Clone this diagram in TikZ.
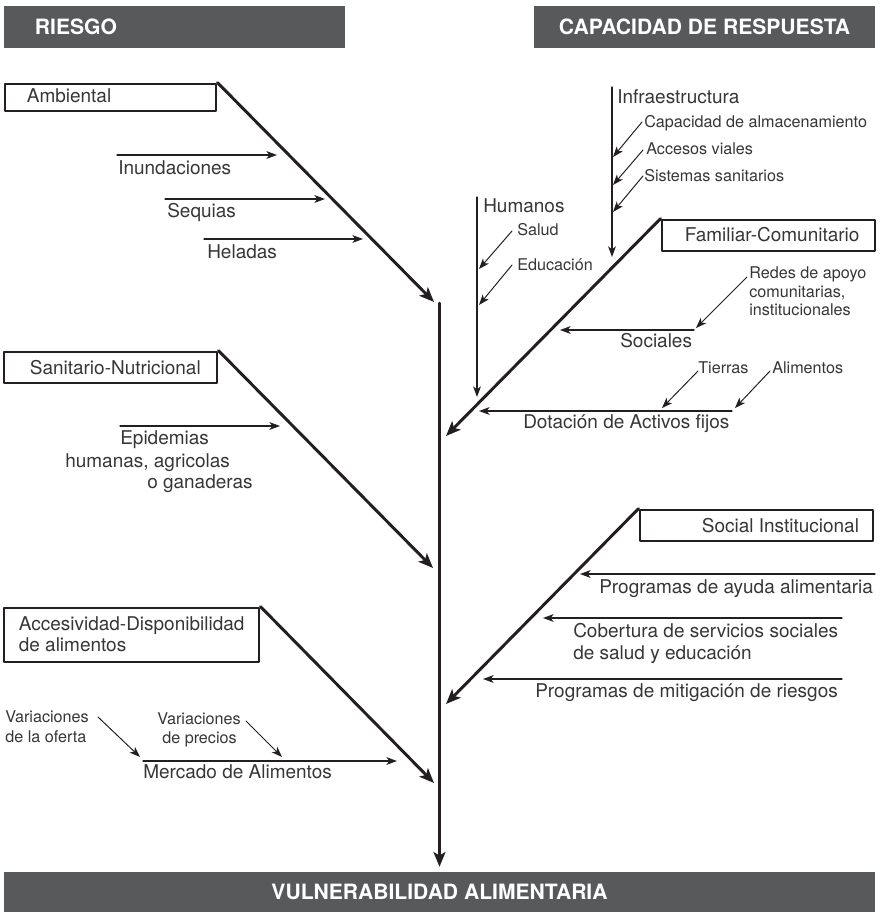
\documentclass[tikz,border=0pt]{standalone}
\usepackage{fontspec}
\setmainfont{TeX Gyre Heros}
\usetikzlibrary{calc,arrows.meta}

\definecolor{barfill}{HTML}{58595B}
\definecolor{ink}{HTML}{231F20}
\definecolor{txtgray}{HTML}{363636}

\begin{document}
\begin{tikzpicture}[line cap=round, line join=round, x=0.025cm, y=-0.025cm]
    \useasboundingbox (0,0) rectangle (880,912);
    \tikzset{
        bar/.style={fill=barfill, text=white, inner sep=0pt, minimum height=1.05cm,
            font=\fontsize{15}{18}\selectfont\bfseries},
        catbox/.style={draw=ink, line width=2pt, inner sep=0pt, minimum height=0.775cm},
        lab/.style={text=txtgray, inner sep=0pt, anchor=base west, font=\fontsize{13.5}{16}\selectfont},
        smalllab/.style={lab, font=\fontsize{11.5}{14}\selectfont},
        bigarr/.style={draw=ink, line width=2.1pt, -{Stealth[length=10.5pt, width=8.5pt, inset=2.5pt]}},
        feedarr/.style={draw=ink, line width=0.85pt, -{Stealth[length=7.5pt, width=5.5pt, inset=2pt]}},
        subarr/.style={feedarr, line width=0.7pt}
    }

    % --- header bars
    \node[bar, minimum width=8.525cm, text width=6.975cm, inner xsep=0.775cm, align=left]
        (riesgo) at (174.5,27) {RIESGO};
    \node[bar, minimum width=8.525cm] (capac) at (704.5,27) {CAPACIDAD DE RESPUESTA};
    \node[bar, minimum width=21.775cm, minimum height=1.0cm] (vuln) at (439.5,892)
        {VULNERABILIDAD ALIMENTARIA};

    % --- category boxes
    \node[catbox, minimum width=5.275cm, minimum height=0.675cm] (amb) at (110.5,97.5) {};
    \node[catbox, minimum width=5.325cm] (san) at (110.5,367.5) {};
    \node[catbox, minimum width=6.375cm, minimum height=1.35cm] (acc) at (131.5,635) {};
    \node[catbox, minimum width=5.325cm] (fam) at (768.5,235.5) {};
    \node[catbox, minimum width=5.825cm] (soc) at (756.5,525.5) {};

    \node[lab] (amblab) at ($(amb.west)+(23,5.5)$) {Ambiental};
    \node[lab] (sanlab) at ($(san.west)+(27,6.5)$) {Sanitario-Nutricional};
    \node[lab] (acclab1) at ($(acc.north west)+(16,24)$) {Accesividad-Disponibilidad};
    \node[lab] (acclab2) at ($(acc.north west)+(16,45)$) {de alimentos};
    \node[lab] (famlab) at ($(fam.west)+(24,6.5)$) {Familiar-Comunitario};
    \node[lab] (soclab) at ($(soc.west)+(63,6.5)$) {Social Institucional};

    % --- spine and arrow tips on it
    \coordinate (spinetop) at (439.5,303);
    \coordinate (ambtip) at (434,302);
    \coordinate (santip) at (433,568);
    \coordinate (acctip) at (434,783);
    \coordinate (famtip) at (446,436);
    \coordinate (soctip) at (446,704);

    % --- riesgo feeds
    \coordinate (inu1) at (117,155);  \coordinate (inu2) at (277,155);
    \coordinate (seq1) at (165,199);  \coordinate (seq2) at (325,199);
    \coordinate (hel1) at (204,239);  \coordinate (hel2) at (363,239);
    \coordinate (epi1) at (120,426);  \coordinate (epi2) at (280,426);
    \coordinate (mer1) at (143,761);  \coordinate (mer2) at (397,761);
    \coordinate (ofe1) at (98,717);   \coordinate (ofe2) at (140,757);
    \coordinate (pre1) at (246,721);  \coordinate (pre2) at (282,757);

    % --- capacidad feeds
    \coordinate (inf1) at (612,87);   \coordinate (inf2) at (612,257);
    \coordinate (cap1) at (642,122);  \coordinate (cap2) at (613,157);
    \coordinate (acv1) at (643,150);  \coordinate (acv2) at (613,185);
    \coordinate (sis1) at (643,176);  \coordinate (sis2) at (613,212);
    \coordinate (hum1) at (477,197);  \coordinate (hum2) at (477,397);
    \coordinate (sal1) at (512,231);  \coordinate (sal2) at (479,269);
    \coordinate (edu1) at (512,265);  \coordinate (edu2) at (479,305);
    \coordinate (red1) at (747,277);  \coordinate (red2) at (696,328);
    \coordinate (sci1) at (694,330);  \coordinate (sci2) at (560,330);
    \coordinate (tie1) at (698,371);  \coordinate (tie2) at (662,408);
    \coordinate (ali1) at (770,371);  \coordinate (ali2) at (735,408);
    \coordinate (dot1) at (732,411);  \coordinate (dot2) at (479,411);
    \coordinate (pay1) at (875,574);  \coordinate (pay2) at (580,574);
    \coordinate (cob1) at (842,618);  \coordinate (cob2) at (543,618);
    \coordinate (mit1) at (842,679);  \coordinate (mit2) at (483,679);

    % --- main arrows
    \draw[bigarr, shorten >=3.5pt] (spinetop) -- (vuln.north);
    \draw[bigarr] (amb.north east) -- (ambtip);
    \draw[bigarr] (san.north east) -- (santip);
    \draw[bigarr] (acc.north east) -- (acctip);
    \draw[bigarr] (fam.north west) -- (famtip);
    \draw[bigarr] (soc.north west) -- (soctip);

    % --- thin arrows
    \draw[feedarr] (inu1) -- (inu2);
    \draw[feedarr] (seq1) -- (seq2);
    \draw[feedarr] (hel1) -- (hel2);
    \draw[feedarr] (epi1) -- (epi2);
    \draw[feedarr] (mer1) -- (mer2);
    \draw[subarr] (ofe1) -- (ofe2);
    \draw[subarr] (pre1) -- (pre2);

    \draw[feedarr] (inf1) -- (inf2);
    \draw[subarr] (cap1) -- (cap2);
    \draw[subarr] (acv1) -- (acv2);
    \draw[subarr] (sis1) -- (sis2);
    \draw[feedarr] (hum1) -- (hum2);
    \draw[subarr] (sal1) -- (sal2);
    \draw[subarr] (edu1) -- (edu2);
    \draw[subarr] (red1) -- (red2);
    \draw[feedarr] (sci1) -- (sci2);
    \draw[subarr] (tie1) -- (tie2);
    \draw[subarr] (ali1) -- (ali2);
    \draw[feedarr] (dot1) -- (dot2);
    \draw[feedarr] (pay1) -- (pay2);
    \draw[feedarr] (cob1) -- (cob2);
    \draw[feedarr] (mit1) -- (mit2);

    % --- labels left side
    \node[lab] (inulab) at (118,175) {Inundaciones};
    \node[lab] (seqlab) at (167,218) {Sequias};
    \node[lab] (hellab) at (207,259) {Heladas};
    \node[lab] (epilab1) at (120,444) {Epidemias};
    \node[lab] (epilab2) at (65,467) {humanas, agricolas};
    \node[lab] (epilab3) at (147,488) {o ganaderas};
    \node[smalllab] (ofelab1) at (5,722) {Variaciones};
    \node[smalllab] (ofelab2) at (5,742) {de la oferta};
    \node[smalllab] (prelab1) at (157,724) {Variaciones};
    \node[smalllab] (prelab2) at (162,743) {de precios};
    \node[lab] (merlab) at (143,778) {Mercado de Alimentos};

    % --- labels right side
    \node[lab] (inflab) at (617,104) {Infraestructura};
    \node[smalllab] (caplab) at (644,128) {Capacidad de almacenamiento};
    \node[smalllab] (acvlab) at (646,155) {Accesos viales};
    \node[smalllab] (sislab) at (644,182) {Sistemas sanitarios};
    \node[lab] (humlab) at (483,212) {Humanos};
    \node[smalllab] (sallab) at (517,235) {Salud};
    \node[smalllab] (edulab) at (517,270) {Educación};
    \node[smalllab] (redlab1) at (749,278) {Redes de apoyo};
    \node[smalllab] (redlab2) at (749,297) {comunitarias,};
    \node[smalllab] (redlab3) at (749,315) {institucionales};
    \node[lab] (scilab) at (620,347) {Sociales};
    \node[smalllab] (tielab) at (698,373) {Tierras};
    \node[smalllab] (alilab) at (772,373) {Alimentos};
    \node[lab] (dotlab) at (523,428) {Dotación de Activos fijos};
    \node[lab] (paylab) at (599,593) {Programas de ayuda alimentaria};
    \node[lab] (coblab1) at (573,637) {Cobertura de servicios sociales};
    \node[lab] (coblab2) at (573,659) {de salud y educación};
    \node[lab] (mitlab) at (535,697) {Programas de mitigación de riesgos};

\end{tikzpicture}
\end{document}
